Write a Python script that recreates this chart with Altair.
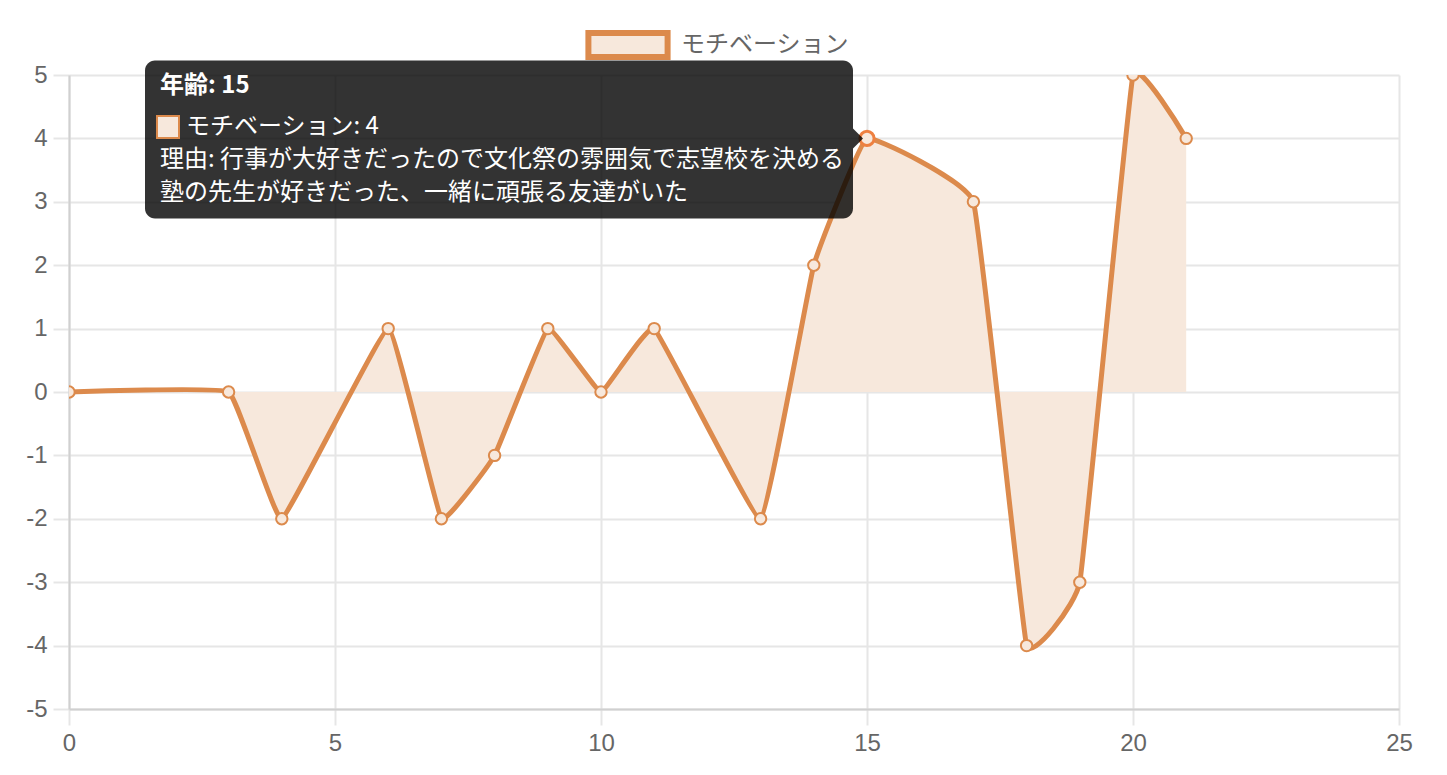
import altair as alt
import pandas as pd

# ---- data ----
ages = [0, 3, 4, 6, 7, 8, 9, 10, 11, 13, 14, 15, 17, 18, 19, 20, 21]
motivation = [0, 0, -2, 1, -2, -1, 1, 0, 1, -2, 2, 4, 3, -4, -3, 5, 4]
series_name = "モチベーション"
x_ticks = [0, 5, 10, 15, 20, 25]
y_ticks = [-5, -4, -3, -2, -1, 0, 1, 2, 3, 4, 5]
hover_age = 15
tooltip_title = "年齢: 15"
tooltip_value = "モチベーション: 4"
tooltip_lines = [
    "理由: 行事が大好きだったので文化祭の雰囲気で志望校を決める",
    "塾の先生が好きだった、一緒に頑張る友達がいた",
]

# ---- style ----
LINE = "#DC8A4C"
FILL = "#F7E8DC"
HOVER = "#EE8040"
GRID = "#e6e6e6"
LABEL = "#666666"
JP = "Noto Sans CJK JP"
LAT = "Liberation Sans"
CURVE = dict(interpolate="cardinal", tension=0.75)

W, H = 1330, 634
XMIN, XMAX, YMIN, YMAX = 0, 25, -5, 5


def to_x(px):
    return XMIN + px * (XMAX - XMIN) / W


def to_y(py):
    return YMAX - py * (YMAX - YMIN) / H


df = pd.DataFrame({"x": ages, "y": motivation, "series": series_name})
hover_val = motivation[ages.index(hover_age)]
hover_df = pd.DataFrame({"x": [hover_age], "y": [hover_val]})

xs = alt.Scale(domain=[XMIN, XMAX], nice=False, zero=False)
ys = alt.Scale(domain=[YMIN, YMAX], nice=False, zero=False)
X = alt.X("x:Q", scale=xs, title=None,
          axis=alt.Axis(values=x_ticks, labelPadding=6, tickSize=16, labelFlush=False,
                        labelExpr="'' + datum.value"))
Y = alt.Y("y:Q", scale=ys, title=None,
          axis=alt.Axis(values=y_ticks, labelPadding=6, tickSize=16, labelFlush=False,
                        labelExpr="'' + datum.value"))

base = alt.Chart(df)

area = base.mark_area(color=FILL, opacity=1, clip=True, **CURVE).encode(
    x=X, y=Y, y2=alt.datum(0)
)

line = base.mark_line(strokeWidth=5, clip=True, **CURVE).encode(
    x=X, y=Y,
    color=alt.Color(
        "series:N",
        scale=alt.Scale(range=[LINE]),
        legend=alt.Legend(
            title=None,
            orient="none",
            legendX=532,
            legendY=-57,
            padding=0,
            symbolType="M-1.65,-0.5H1.65V0.5H-1.65Z",
            symbolSize=2304,
            symbolFillColor=FILL,
            symbolStrokeColor=LINE,
            symbolStrokeWidth=6,
            symbolOpacity=1,
            labelFont=JP,
            labelFontSize=24,
            labelColor=LABEL,
            labelOffset=26,
            labelLimit=0,
        ),
    ),
)

points = base.mark_point(
    shape="circle", filled=True, fill=FILL, stroke=LINE, strokeWidth=2, size=130,
    opacity=1, clip=True
).encode(x=X, y=Y)

hover_pt = alt.Chart(hover_df).mark_point(
    shape="circle", filled=True, fill=FILL, stroke=HOVER, strokeWidth=3, size=200, opacity=1
).encode(x=X, y=Y)

# ---- tooltip geometry (pixel offsets relative to hovered point) ----
hx = (hover_age - XMIN) / (XMAX - XMIN) * W
hy = (YMAX - hover_val) / (YMAX - YMIN) * H
r_right = hx - 14
r_left = r_right - 708
r_top = hy - 78
r_bot = r_top + 158

tip_rect = alt.Chart(pd.DataFrame({
    "x": [to_x(r_left)], "x2": [to_x(r_right)], "y": [to_y(r_top)], "y2": [to_y(r_bot)]
})).mark_rect(color="black", opacity=0.8, cornerRadius=10).encode(
    x=X, x2="x2:Q", y=Y, y2="y2:Q"
)

caret = alt.Chart(pd.DataFrame({"x": [to_x(r_right + 5)], "y": [hover_val]})).mark_point(
    shape="M-0.5,-1L0.5,0L-0.5,1Z", filled=True, color="black", opacity=0.8, size=400
).encode(x=X, y=Y)

title_txt = alt.Chart(pd.DataFrame({"x": [to_x(r_left + 15)], "y": [to_y(r_top + 26)], "t": [tooltip_title]})).mark_text(
    align="left", baseline="middle", font=JP, fontSize=24, fontWeight="bold", color="white"
).encode(x=X, y=Y, text="t:N")

swatch = alt.Chart(pd.DataFrame({"x": [to_x(r_left + 23)], "y": [to_y(r_top + 66.5)]})).mark_point(
    shape="square", filled=True, fill=FILL, stroke=LINE, strokeWidth=2, size=484, opacity=1
).encode(x=X, y=Y)

value_txt = alt.Chart(pd.DataFrame({"x": [to_x(r_left + 41)], "y": [to_y(r_top + 66.5)], "t": [tooltip_value]})).mark_text(
    align="left", baseline="middle", font=JP, fontSize=24, color="white"
).encode(x=X, y=Y, text="t:N")

body_txt = alt.Chart(pd.DataFrame({
    "x": [to_x(r_left + 15)] * 2,
    "y": [to_y(r_top + 100), to_y(r_top + 133)],
    "t": tooltip_lines,
})).mark_text(
    align="left", baseline="middle", font=JP, fontSize=24, color="white"
).encode(x=X, y=Y, text="t:N")

chart = alt.layer(
    area, line, points, hover_pt, tip_rect, caret, title_txt, swatch, value_txt, body_txt
).properties(
    width=W, height=H,
    autosize=alt.AutoSizeParams(type="none"),
    padding={"left": 61, "top": 67, "right": 40, "bottom": 50},
).configure_view(stroke=None).configure_axis(
    gridColor=GRID, gridWidth=2, tickColor=GRID, tickWidth=2,
    domainColor="#d0d0d0", domainWidth=2,
    labelFont=LAT, labelFontSize=24, labelColor=LABEL,
)

chart.save("out.html", embed_options={"renderer": "svg", "actions": False})
